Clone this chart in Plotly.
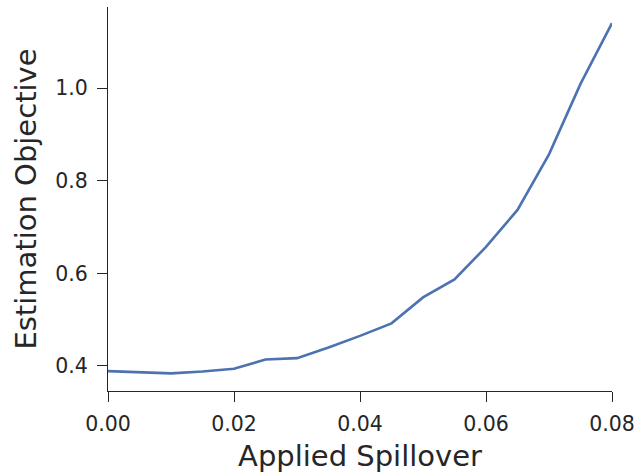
import plotly.graph_objects as go

spillover = [0.0, 0.005, 0.01, 0.015, 0.02, 0.025, 0.03, 0.035, 0.04,
             0.045, 0.05, 0.055, 0.06, 0.065, 0.07, 0.075, 0.08]
objective = [0.389, 0.386, 0.384, 0.388, 0.394, 0.414, 0.417, 0.440, 0.465,
             0.492, 0.548, 0.587, 0.657, 0.737, 0.857, 1.009, 1.140]

x_ticks = [0.0, 0.02, 0.04, 0.06, 0.08]
x_ticklabels = ["0.00", "0.02", "0.04", "0.06", "0.08"]
y_ticks = [0.4, 0.6, 0.8, 1.0]
y_ticklabels = ["0.4", "0.6", "0.8", "1.0"]

font_family = "DejaVu Sans"
text_color = "#262626"

fig = go.Figure()
fig.add_trace(go.Scatter(
    x=spillover, y=objective, mode="lines",
    line=dict(color="#4C72B0", width=2.6),
    showlegend=False,
))

fig.update_layout(
    width=642, height=474,
    margin=dict(l=108, r=26, t=7, b=83),
    paper_bgcolor="white", plot_bgcolor="white",
    font=dict(family=font_family, color=text_color),
)
fig.update_xaxes(
    range=[0, 0.08],
    tickvals=x_ticks, ticktext=x_ticklabels,
    showgrid=False, zeroline=False,
    showline=True, linecolor="#262626", linewidth=1.3,
    ticks="outside", ticklen=10, tickwidth=1.3, tickcolor="#262626",
    ticklabelstandoff=4,
    tickfont=dict(size=20.5, family=font_family, color=text_color),
    title=dict(text="Applied Spillover", font=dict(size=29, family=font_family, color=text_color), standoff=10),
)
fig.update_yaxes(
    range=[0.346, 1.175],
    tickvals=y_ticks, ticktext=y_ticklabels,
    showgrid=False, zeroline=False,
    showline=True, linecolor="#262626", linewidth=1.3,
    ticks="outside", ticklen=10, tickwidth=1.3, tickcolor="#262626",
    ticklabelstandoff=5,
    tickfont=dict(size=20.5, family=font_family, color=text_color),
    title=dict(text="Estimation Objective", font=dict(size=29, family=font_family, color=text_color), standoff=9),
)

fig.write_html("out.html")
